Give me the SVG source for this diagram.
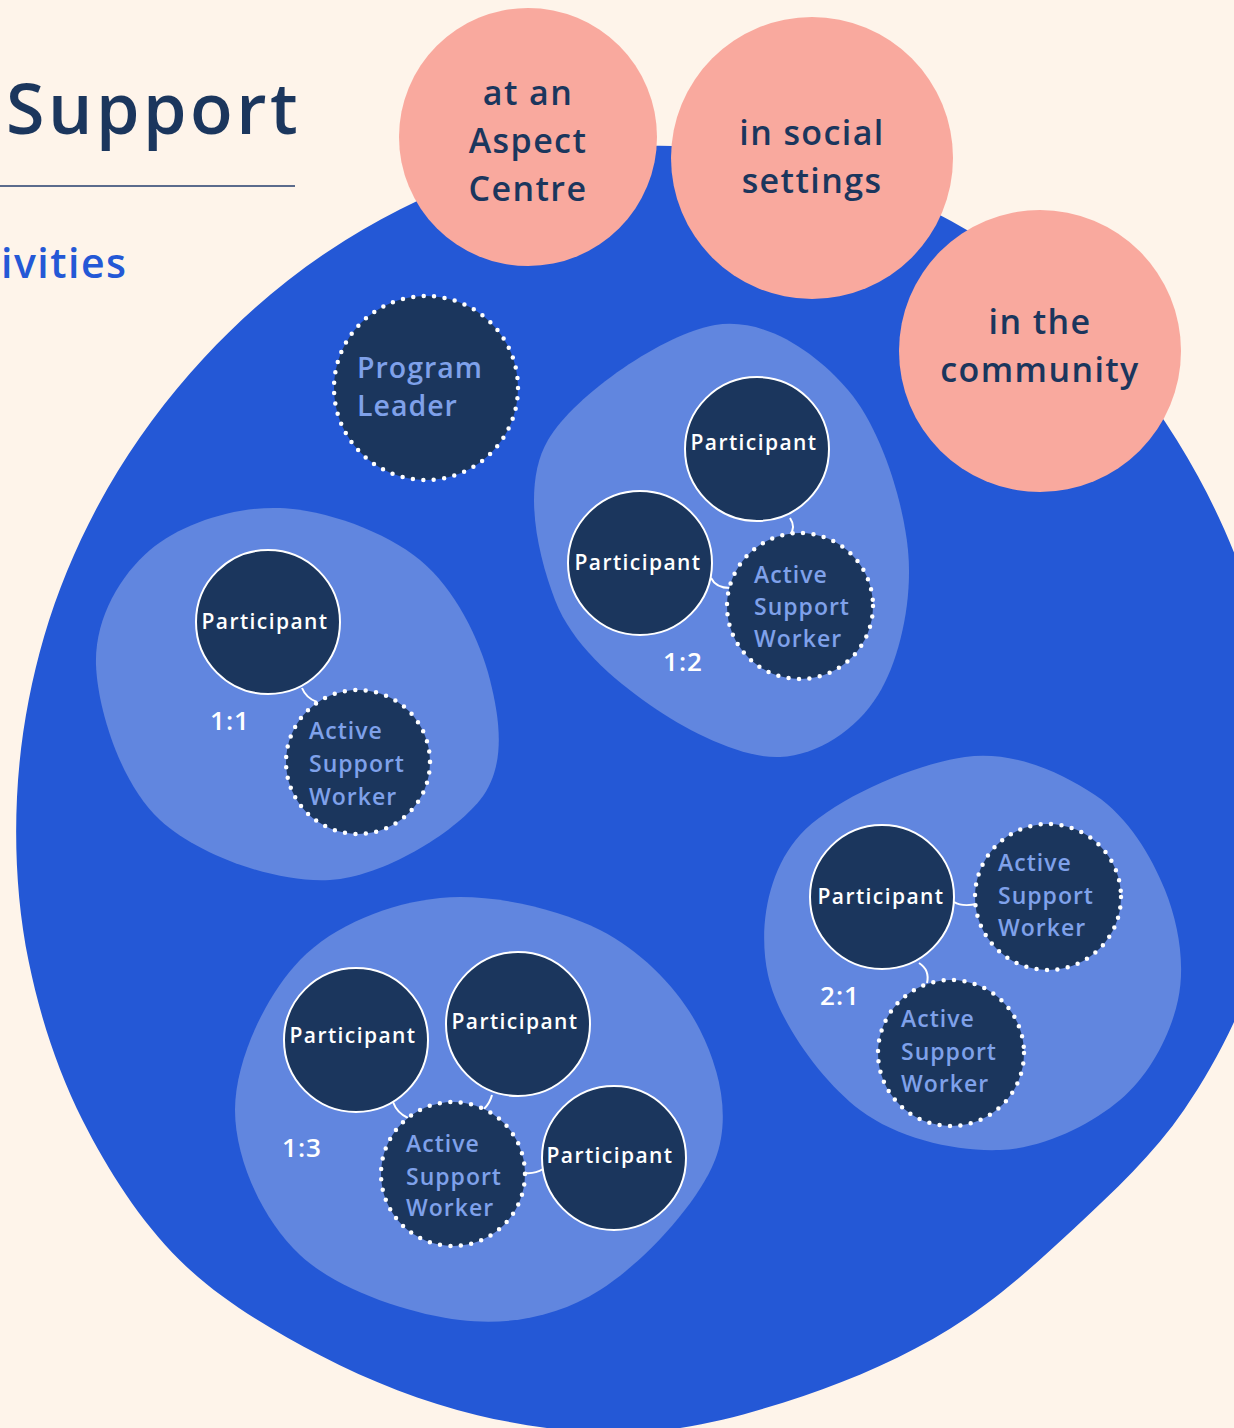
<svg xmlns="http://www.w3.org/2000/svg" width="1234" height="1428" viewBox="0 0 1234 1428">
<style>
.pc{fill:#1B365D;stroke:#fff;stroke-width:2}
.ac{fill:#1B365D;stroke:#fff;stroke-width:4.5;stroke-dasharray:0 10.5;stroke-linecap:round}
.pt{font-family:"Open Sans","Liberation Sans",sans-serif;font-weight:600;font-size:21px;fill:#fff;letter-spacing:1.4px;text-anchor:middle}
.at{font-family:"Open Sans","Liberation Sans",sans-serif;font-weight:600;font-size:23px;fill:#7FA1EA;letter-spacing:1px}
.rt{font-family:"Open Sans","Liberation Sans",sans-serif;font-weight:600;font-size:26px;fill:#fff;letter-spacing:1px;text-anchor:middle}
.pk{fill:#F9A99E}
.pkt{font-family:"Open Sans","Liberation Sans",sans-serif;font-weight:600;font-size:34px;fill:#1B365D;letter-spacing:1.4px;text-anchor:middle}
.blob{fill:#6186DF}
.cn{fill:none;stroke:#fff;stroke-width:2}
</style>
<rect width="1234" height="1428" fill="#FEF4EA"/>
<text x="6" y="134" font-family="'Open Sans','Liberation Sans',sans-serif" font-weight="600" font-size="70" letter-spacing="3.5" fill="#1B365D">Support</text>
<line x1="0" y1="186" x2="295" y2="186" stroke="#5B6B8C" stroke-width="2"/>
<text x="1" y="278" font-family="'Open Sans','Liberation Sans',sans-serif" font-weight="600" font-size="41" letter-spacing="1.5" fill="#2458D6">ivities</text>
<path id="main" fill="#2458D6" d="M1281,797 C1280.5,852 1273.4,909.5 1257.3,961.6 C1241.2,1013.7 1214.8,1065 1184.3,1109.5 C1153.8,1154 1113.4,1191.8 1074.3,1228.3 C1035.2,1264.8 995.1,1300.8 950,1328.7 C904.9,1356.6 854.7,1378.7 803.5,1395.9 C752.3,1413.1 697.4,1428.8 643,1432 C588.6,1435.2 531.2,1427.9 477.4,1415.2 C423.6,1402.5 370.1,1381.4 320.5,1355.6 C270.9,1329.8 219.4,1299.4 179.8,1260.2 C140.2,1221 107.9,1170.3 82.7,1120.5 C57.5,1070.7 39.7,1015.5 28.7,961.6 C17.7,907.7 14.4,851.2 17,797 C19.6,742.8 29,688 44.1,636.5 C59.2,585 81.2,534.4 107.8,488 C134.4,441.6 167.2,397.3 203.9,357.9 C240.6,318.5 282.5,281.6 328,251.4 C373.5,221.2 424.4,194.5 476.9,176.9 C529.4,159.3 587.1,147.8 643,146 C698.9,144.2 757.6,152 812,166.3 C866.4,180.6 921.4,202.6 969.5,231.5 C1017.6,260.4 1062.4,298.7 1100.5,339.5 C1138.6,380.3 1171.5,427.8 1198.1,476.5 C1224.7,525.2 1246.4,578.2 1260.2,631.6 C1274,685 1281.5,741.9 1281,797 Z"/>
<g id="settings">
<g id="aspect-centre"><circle class="pk" cx="528" cy="137" r="129"/><text class="pkt"><tspan x="528" y="105">at an</tspan><tspan x="528" y="153">Aspect</tspan><tspan x="528" y="201">Centre</tspan></text></g>
<g id="social"><circle class="pk" cx="812" cy="158" r="141"/><text class="pkt"><tspan x="812" y="145">in social</tspan><tspan x="812" y="193">settings</tspan></text></g>
<g id="community"><circle class="pk" cx="1040" cy="351" r="141"/><text class="pkt"><tspan x="1040" y="334">in the</tspan><tspan x="1040" y="382">community</tspan></text></g>
</g>
<g id="blobs">
<path id="blob-1-1" class="blob" d="M280,508 C325,509.7 385,531.3 420,560 C455,588.7 480,640 490,680 C500,720 506.7,766.7 480,800 C453.3,833.3 383.3,876.7 330,880 C276.7,883.3 199,855.8 160,820 C121,784.2 97.7,710 96,665 C94.3,620 119.3,576.2 150,550 C180.7,523.8 235,506.3 280,508 Z"/>
<path id="blob-1-2" class="blob" d="M715,325 C765,316.7 815.8,352.5 848,390 C880.2,427.5 903,499.2 908,550 C913,600.8 899.3,660.5 878,695 C856.7,729.5 818,755.3 780,757 C742,758.7 687.5,731.2 650,705 C612.5,678.8 572,644.2 555,600 C538,555.8 521.3,485.8 548,440 C574.7,394.2 665,333.3 715,325 Z"/>
<path id="blob-1-3" class="blob" d="M440,898 C490,893 556.7,908 600,930 C643.3,952 680.8,991.7 700,1030 C719.2,1068.3 731.7,1116.7 715,1160 C698.3,1203.3 642.5,1263.3 600,1290 C557.5,1316.7 510,1325.8 460,1320 C410,1314.2 337.5,1290 300,1255 C262.5,1220 235,1159.2 235,1110 C235,1060.8 265.8,995.3 300,960 C334.2,924.7 390,903 440,898 Z"/>
<path id="blob-2-1" class="blob" d="M965,757 C1014.2,750.3 1061.7,772.8 1095,795 C1128.3,817.2 1151.2,855.8 1165,890 C1178.8,924.2 1185.5,965 1178,1000 C1170.5,1035 1149.7,1075 1120,1100 C1090.3,1125 1043.3,1148.3 1000,1150 C956.7,1151.7 898.7,1139.2 860,1110 C821.3,1080.8 778,1020.8 768,975 C758,929.2 767.2,871.3 800,835 C832.8,798.7 915.8,763.7 965,757 Z"/>
</g>
<g id="connectors">
<path class="cn" d="M302,688 Q306,698 317,702"/>
<path class="cn" d="M790,518 Q796,527 790,535"/>
<path class="cn" d="M711,578 Q716,588 730,588"/>
<path class="cn" d="M954,902 Q962,907 977,904"/>
<path class="cn" d="M919,963 Q930,970 927,983"/>
<path class="cn" d="M393,1102 Q397,1113 408,1118"/>
<path class="cn" d="M492,1095 Q490,1103 484,1109"/>
<path class="cn" d="M525,1173 Q535,1174 543,1169"/>
</g>
<g id="program-leader"><circle class="ac" cx="426" cy="388" r="92"/><text font-family="'Open Sans','Liberation Sans',sans-serif" font-weight="600" font-size="28.5" letter-spacing="1" fill="#7FA1EA"><tspan x="357" y="378">Program</tspan><tspan x="357" y="416">Leader</tspan></text></g>
<g id="g11-participant"><circle class="pc" cx="268" cy="622" r="72"/><text class="pt" x="265" y="629">Participant</text></g>
<g id="g11-asw"><circle class="ac" cx="358" cy="762" r="72"/><text class="at"><tspan x="309" y="739">Active</tspan><tspan x="309" y="772">Support</tspan><tspan x="309" y="805">Worker</tspan></text></g>
<text id="r11" class="rt" x="230" y="730">1:1</text>
<g id="g12-participant-a"><circle class="pc" cx="757" cy="449" r="72"/><text class="pt" x="754" y="450">Participant</text></g>
<g id="g12-participant-b"><circle class="pc" cx="640" cy="563" r="72"/><text class="pt" x="638" y="570">Participant</text></g>
<g id="g12-asw"><circle class="ac" cx="800" cy="606" r="73"/><text class="at"><tspan x="754" y="583">Active</tspan><tspan x="754" y="615">Support</tspan><tspan x="754" y="647">Worker</tspan></text></g>
<text id="r12" class="rt" x="683" y="671">1:2</text>
<g id="g21-participant"><circle class="pc" cx="882" cy="897" r="72"/><text class="pt" x="881" y="904">Participant</text></g>
<g id="g21-asw-a"><circle class="ac" cx="1048" cy="897" r="73"/><text class="at"><tspan x="998" y="871">Active</tspan><tspan x="998" y="904">Support</tspan><tspan x="998" y="936">Worker</tspan></text></g>
<g id="g21-asw-b"><circle class="ac" cx="951" cy="1053" r="73"/><text class="at"><tspan x="901" y="1027">Active</tspan><tspan x="901" y="1060">Support</tspan><tspan x="901" y="1092">Worker</tspan></text></g>
<text id="r21" class="rt" x="840" y="1005">2:1</text>
<g id="g13-participant-a"><circle class="pc" cx="356" cy="1040" r="72"/><text class="pt" x="353" y="1043">Participant</text></g>
<g id="g13-participant-b"><circle class="pc" cx="518" cy="1024" r="72"/><text class="pt" x="515" y="1029">Participant</text></g>
<g id="g13-participant-c"><circle class="pc" cx="614" cy="1158" r="72"/><text class="pt" x="610" y="1163">Participant</text></g>
<g id="g13-asw"><circle class="ac" cx="453" cy="1174" r="72"/><text class="at"><tspan x="406" y="1152">Active</tspan><tspan x="406" y="1185">Support</tspan><tspan x="406" y="1216">Worker</tspan></text></g>
<text id="r13" class="rt" x="302" y="1157">1:3</text>
</svg>
